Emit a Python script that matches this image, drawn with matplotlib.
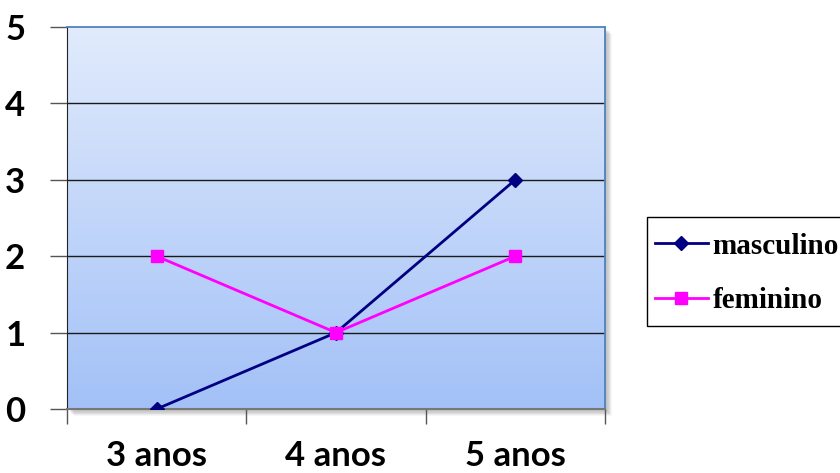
import numpy as np
import matplotlib
matplotlib.use("Agg")
import matplotlib.pyplot as plt
from matplotlib.patches import Rectangle
from matplotlib.colors import LinearSegmentedColormap

categories = ["3 anos", "4 anos", "5 anos"]
masculino = [0, 1, 3]
feminino = [2, 1, 2]
y_ticks = [0, 1, 2, 3, 4, 5]

W, H = 840, 473
fig = plt.figure(figsize=(W / 100, H / 100), dpi=100)
fig.patch.set_facecolor("white")

L, R, B, T = 67 / W, 605 / W, 1 - 409 / H, 1 - 27 / H
ax = fig.add_axes([L, B, R - L, T - B])
ax.set_zorder(2)

# soft drop shadow behind the plot area
for i in range(8):
    off = (i + 1) * 0.9
    fig.patches.append(Rectangle((L + off / W, B - off / H), R - L, T - B,
                                 transform=fig.transFigure, facecolor="black",
                                 edgecolor="none", alpha=0.035, zorder=0.5))

x = np.arange(len(categories))
ax.set_xlim(-0.5, len(categories) - 0.5)
ax.set_ylim(0, 5)

# vertical gradient background
grad = LinearSegmentedColormap.from_list("bg", ["#a3c1f7", "#e1ebfc"])
ax.imshow(np.linspace(0, 1, 256).reshape(-1, 1), cmap=grad, origin="lower",
          extent=[-0.5, len(categories) - 0.5, 0, 5], aspect="auto", zorder=0)

for yv in y_ticks[1:-1]:
    ax.axhline(yv, color="#1a1a1a", lw=1.0, zorder=1)

ax.plot(x, masculino, color="#000080", lw=2.0, marker="D", ms=7,
        label="masculino", zorder=3)
ax.plot(x, feminino, color="#ff00ff", lw=2.0, marker="s", ms=9,
        label="feminino", zorder=3)

tick_font = dict(fontfamily="Lato", fontweight="bold", fontsize=25)
ax.set_yticks(y_ticks)
ax.set_yticklabels([str(v) for v in y_ticks], **tick_font)
ax.set_xticks(x)
ax.set_xticklabels(categories, **tick_font)
ax.set_xticks([-0.5, 0.5, 1.5, 2.5], minor=True)
ax.tick_params(axis="x", which="major", length=0, pad=22)
ax.tick_params(axis="x", which="minor", length=11, width=1, color="#555555")
ax.tick_params(axis="y", which="major", length=12, width=1, color="#555555", pad=18)

ax.spines["left"].set_color("#222222")
ax.spines["bottom"].set_color("#777777")
ax.spines["bottom"].set_linewidth(1.5)
ax.spines["top"].set_color("#4f81bd")
ax.spines["right"].set_color("#4f81bd")
ax.spines["top"].set_linewidth(1.3)
ax.spines["right"].set_linewidth(1.3)

# legend box (runs past the right edge of the figure)
fig.patches.append(Rectangle((647 / W, 1 - 326 / H), 210 / W, 109 / H,
                             transform=fig.transFigure, facecolor="white",
                             edgecolor="black", lw=1.0, zorder=3))
leg = fig.legend(loc="upper left", bbox_to_anchor=(655 / W, 1 - 232.5 / H),
                 prop={"family": "Liberation Serif", "weight": "bold", "size": 21},
                 frameon=False, handlelength=1.8, handletextpad=0.17,
                 borderpad=0, labelspacing=0.95, borderaxespad=0)
leg.set_zorder(4)

fig.savefig("out.png", dpi=100)
